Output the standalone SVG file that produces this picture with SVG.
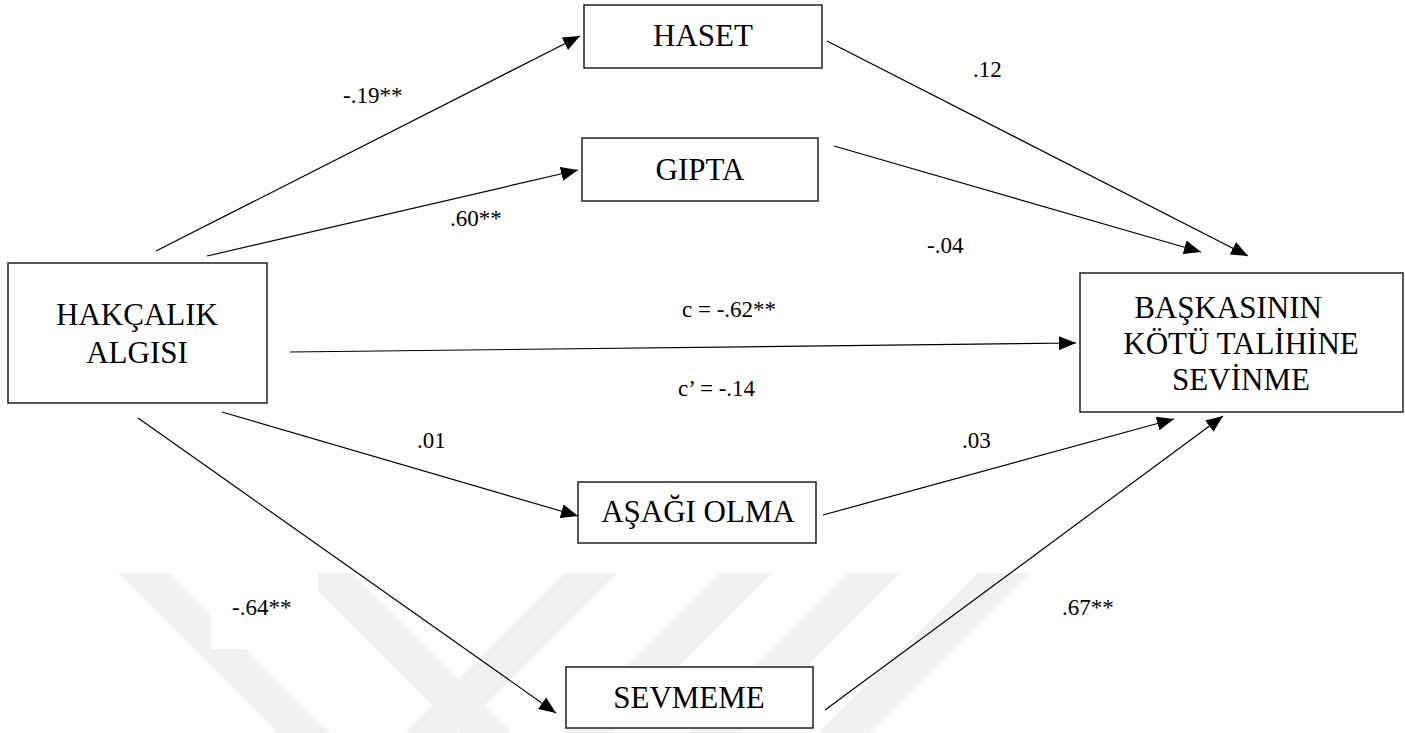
<svg xmlns="http://www.w3.org/2000/svg" width="1405" height="733" viewBox="0 0 1405 733">
<style>
.box{fill:#fff;stroke:#222;stroke-width:1.5}
.nt{font-family:"Liberation Serif","Times New Roman",serif;font-size:31px;fill:#000;text-anchor:middle}
.lb{font-family:"Liberation Serif","Times New Roman",serif;font-size:23px;fill:#000}
.ln{stroke:#000;stroke-width:1.2;fill:none;marker-end:url(#ah)}
.wm{fill:#f1f1f1}
</style>
<defs>
<marker id="ah" markerUnits="userSpaceOnUse" markerWidth="18" markerHeight="14" refX="17" refY="7" orient="auto">
<path d="M0,0 L17,7 L0,14 z" fill="#000"/>
</marker>
</defs>
<rect width="1405" height="733" fill="#fff"/>
<g id="watermark">
<polygon class="wm" points="118,573 170,573 330,733 278,733"/>
<polygon class="wm" points="318,573 352,573 512,733 460,733 318,591"/>
<polygon class="wm" points="565,573 617,573 457,733 405,733"/>
<polygon class="wm" points="720,573 772,573 612,733 560,733"/>
<polygon class="wm" points="848,573 900,573 740,733 688,733"/>
<polygon class="wm" points="978,573 1030,573 870,733 818,733"/>
<rect x="211" y="585" width="106" height="64" fill="#fff"/>
</g>
<g id="connectors">
<line class="ln" x1="156" y1="251" x2="580" y2="36"/>
<line class="ln" x1="207" y1="256" x2="578" y2="170"/>
<line class="ln" x1="827" y1="41" x2="1248" y2="256"/>
<line class="ln" x1="834" y1="146" x2="1201" y2="252"/>
<line class="ln" x1="290" y1="352" x2="1076" y2="343"/>
<line class="ln" x1="222" y1="412" x2="578" y2="516"/>
<line class="ln" x1="138" y1="418" x2="556" y2="713"/>
<line class="ln" x1="823" y1="515" x2="1174" y2="419"/>
<line class="ln" x1="825" y1="710" x2="1223" y2="416"/>
</g>
<g id="labels">
<text class="lb" x="343" y="103">-.19**</text>
<text class="lb" x="450" y="226">.60**</text>
<text class="lb" x="973" y="77">.12</text>
<text class="lb" x="927" y="253">-.04</text>
<text class="lb" x="682" y="317">c = -.62**</text>
<text class="lb" x="678" y="396">c’ = -.14</text>
<text class="lb" x="417" y="448">.01</text>
<text class="lb" x="962" y="448">.03</text>
<text class="lb" x="232" y="615">-.64**</text>
<text class="lb" x="1062" y="615">.67**</text>
</g>
<g id="hakcalik">
<rect class="box" x="8" y="263" width="259" height="140"/>
<text class="nt" x="137" y="325">HAKÇALIK</text>
<text class="nt" x="137" y="363">ALGISI</text>
</g>
<g id="haset">
<rect class="box" x="584" y="5" width="238" height="63"/>
<text class="nt" x="703" y="46">HASET</text>
</g>
<g id="gipta">
<rect class="box" x="582" y="138" width="236" height="63"/>
<text class="nt" x="700" y="180">GIPTA</text>
</g>
<g id="asagi">
<rect class="box" x="578" y="482" width="238" height="61"/>
<text class="nt" x="698" y="522">AŞAĞI OLMA</text>
</g>
<g id="sevmeme">
<rect class="box" x="566" y="667" width="247" height="61"/>
<text class="nt" x="689" y="708">SEVMEME</text>
</g>
<g id="baskasinin">
<rect class="box" x="1080" y="273" width="323" height="139"/>
<text class="nt" x="1228" y="318">BAŞKASININ</text>
<text class="nt" x="1241" y="354">KÖTÜ TALİHİNE</text>
<text class="nt" x="1241" y="390">SEVİNME</text>
</g>
</svg>
